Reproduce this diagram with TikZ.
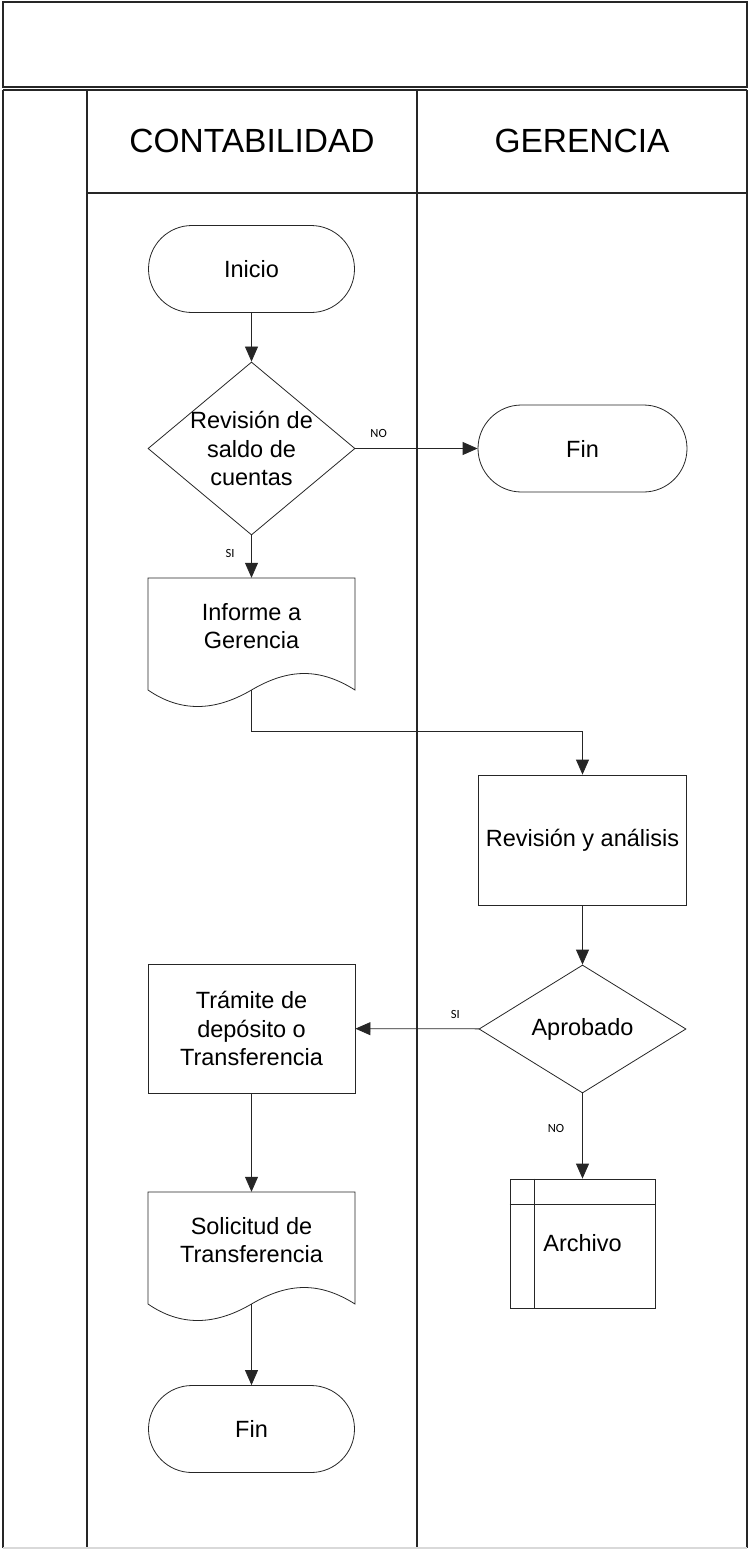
\documentclass[tikz,border=0pt]{standalone}
\usepackage{fontspec}
\setmainfont{Liberation Sans}
\newfontfamily\lblfont{Carlito}
\usetikzlibrary{shapes.geometric,shapes.misc,arrows.meta,calc}

% body and header type sizes
\newcommand\bodytxt{\fontsize{23.5}{28.5}\selectfont}
\newcommand\hdrtxt{\fontsize{33.5}{40}\selectfont}

% document symbol: #1 left x, #2 top y, #3 name of the wave midpoint
\newcommand\docoutline[3]{%
  \draw[shp] (#1,#2) -- ({#1+207},#2) -- ({#1+207},{#2+112})
    .. controls ({#1+172},{#2+90}) and ({#1+141},{#2+90}) .. ({#1+103.5},{#2+112})
    coordinate (#3)
    .. controls ({#1+66},{#2+134}) and ({#1+32},{#2+134}) .. (#1,{#2+112}) -- cycle;}

\begin{document}
\begin{tikzpicture}[x=1pt,y=-1pt,
  lane/.style={draw=black!85, line width=1.1pt},
  shp/.style={draw=black!85, line width=0.8pt},
  txt/.style={font=\bodytxt, align=center, inner sep=0pt},
  hdr/.style={font=\hdrtxt, inner sep=0pt},
  term/.style={shp, rounded rectangle, minimum width=206pt, minimum height=87pt, inner sep=0pt, font=\bodytxt},
  proc/.style={shp, rectangle, inner sep=0pt, font=\bodytxt, align=center},
  dec/.style={shp, diamond, inner sep=0pt, minimum width=207pt},
  docbox/.style={rectangle, inner sep=0pt, minimum width=207pt, minimum height=96pt, font=\bodytxt, align=center},
  arr/.style={draw=black!85, line width=0.8pt, -{Triangle[length=15pt,width=13pt]}},
  lbl/.style={font=\lblfont\fontsize{12.5}{14}\selectfont, inner sep=0pt}
]
\useasboundingbox (0,0) rectangle (749,1549);

% title box and swimlane frame
\draw[lane] (3,2) rectangle (747,87);
\draw[lane] (3,90) -- (747,90);
\draw[lane] (3,90) -- (3,1548);
\draw[lane] (747,90) -- (747,1548);
\draw[lane] (87,90) -- (87,1548);
\draw[lane] (417,90) -- (417,1548);
\draw[lane] (87,193) -- (747,193);
\draw[gray!30, line width=1.5pt] (3,1548) -- (747,1548);

% lane headers
\node[hdr] (hcont) at (252,141) {CONTABILIDAD};
\node[hdr] (hger) at (582,141) {GERENCIA};

% CONTABILIDAD lane
\node[term] (ini) at (251.5,269) {Inicio};
\node[dec, minimum height=173pt] (d1) at (251.5,448.5) {};
\node[txt] (d1t) at (d1) {Revisión de\\saldo de\\cuentas};
\docoutline{148}{578}{infw}
\node[docbox] (inf) at (251.5,626) {Informe a\\Gerencia};
\node[proc, minimum width=207pt, minimum height=129pt] (tram) at (251.5,1028.5) {Trámite de\\depósito o\\Transferencia};
\docoutline{148}{1192}{solw}
\node[docbox] (sol) at (251.5,1240) {Solicitud de\\Transferencia};
\node[term] (fin2) at (251.5,1429) {Fin};

% GERENCIA lane
\node[term, minimum width=209pt] (fin1) at (582.5,448.5) {Fin};
\node[proc, minimum width=208pt, minimum height=130pt] (rev) at (582.5,840) {Revisión y análisis};
\node[dec, minimum height=128pt] (d2) at (582.5,1029) {};
\node[txt] (d2t) at (d2) {Aprobado};
\node[proc, minimum width=145pt, minimum height=129pt] (arc) at (582.5,1243.5) {Archivo};
\draw[shp] ([xshift=25pt]arc.north west) -- ([xshift=25pt]arc.south west);
\draw[shp] ([yshift=-26pt]arc.north west) -- ([yshift=-26pt]arc.north east);

% connectors
\draw[arr] (ini) -- (d1);
\draw[arr] (d1) -- node[lbl, pos=0.19, yshift=15pt] {NO} (fin1);
\draw[arr] (d1) -- node[lbl, pos=0.42, xshift=-21.5pt] {SI} (inf);
\draw[arr] (infw) -- ++(0,41) -| (rev);
\draw[arr] (rev) -- (d2);
\draw[arr] (d2) -- node[lbl, pos=0.19, yshift=14pt] {SI} (tram);
\draw[arr] (d2) -- node[lbl, pos=0.41, xshift=-26.5pt] {NO} (arc);
\draw[arr] (tram) -- (sol);
\draw[arr] (solw) -- (fin2);
\end{tikzpicture}
\end{document}
